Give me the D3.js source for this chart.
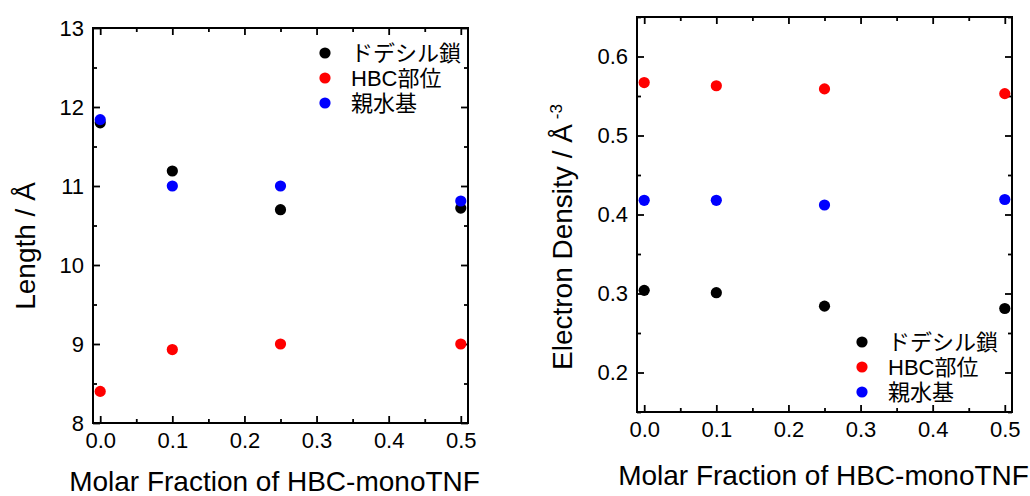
<!DOCTYPE html>
<html>
<head>
<meta charset="utf-8">
<script src="https://cdn.jsdelivr.net/npm/d3@7"></script>
<style>
	body { margin: 0; background: #fff; }
	svg { display: block; }
	text { font-family: 'Liberation Sans', Arial, 'Noto Sans CJK JP', sans-serif; fill: #000; }
</style>
</head>
<body>
<div id="chart"></div>
<script>
// molar fraction of HBC-monoTNF
const fractions = [0, 0.1, 0.25, 0.5]
const seriesNames = ['ドデシル鎖', 'HBC部位', '親水基']
const seriesColors = ['#000000', '#ff0000', '#0000ff']

// left panel: length / Å
const lengthDodecyl = [11.8, 11.19, 10.7, 10.72]
const lengthHBC = [8.4, 8.93, 9.0, 9.0]
const lengthHydrophilic = [11.84, 11.0, 11.0, 10.81]

// right panel: electron density / Å^-3
const densityDodecyl = [0.304, 0.301, 0.284, 0.281]
const densityHBC = [0.567, 0.563, 0.559, 0.553]
const densityHydrophilic = [0.418, 0.418, 0.412, 0.419]

const xTicks = [0, 0.1, 0.2, 0.3, 0.4, 0.5]
const xMinorTicks = [0.05, 0.15, 0.25, 0.35, 0.45]
const lengthTicks = [8, 9, 10, 11, 12, 13]
const lengthMinorTicks = [8.5, 9.5, 10.5, 11.5, 12.5]
const densityTicks = [0.2, 0.3, 0.4, 0.5, 0.6]
const densityMinorTicks = [0.15, 0.25, 0.35, 0.45, 0.55, 0.65]

const svg = d3
	.select('#chart')
	.append('svg')
	.attr('width', 1030)
	.attr('height', 496)

const fmtX = d3.format('.1f')

function drawPanel(opts) {
	const { left, top, width, height } = opts

	const x = d3
		.scaleLinear()
		.domain([-0.01, 0.51])
		.range([0, width])

	const y = d3
		.scaleLinear()
		.domain(opts.yDomain)
		.range([height, 0])

	const g = svg
		.append('g')
		.attr('transform', `translate(${left},${top})`)

	// ticks point inwards on all four sides, labels only bottom/left
	const axes = [
		{ axis: d3.axisBottom(x), t: `translate(0,${height})`, ticks: xTicks, minor: xMinorTicks, fmt: fmtX },
		{ axis: d3.axisTop(x), t: 'translate(0,0)', ticks: xTicks, minor: xMinorTicks, fmt: '' },
		{ axis: d3.axisLeft(y), t: 'translate(0,0)', ticks: opts.yTicks, minor: opts.yMinor, fmt: opts.yFormat },
		{ axis: d3.axisRight(y), t: `translate(${width},0)`, ticks: opts.yTicks, minor: opts.yMinor, fmt: '' }
	]

	axes.forEach(a => {
		const major = g
			.append('g')
			.attr('transform', a.t)
			.call(
				a.axis
					.tickValues(a.ticks)
					.tickSizeInner(-7)
					.tickSizeOuter(0)
					.tickPadding(9)
					.tickFormat(a.fmt)
			)
		major.select('.domain').remove()
		major.selectAll('line').attr('stroke', '#000').attr('stroke-width', 1.8)
		major.selectAll('text').style('font-size', '22px')

		const minor = g
			.append('g')
			.attr('transform', a.t)
			.call(
				a.axis
					.tickValues(a.minor)
					.tickSizeInner(-4)
					.tickFormat('')
			)
		minor.select('.domain').remove()
		minor.selectAll('line').attr('stroke', '#000').attr('stroke-width', 1.8)
	})

	g.append('rect')
		.attr('width', width)
		.attr('height', height)
		.attr('fill', 'none')
		.attr('stroke', '#000')
		.attr('stroke-width', 2)

	// points, drawn black -> red -> blue
	opts.series.forEach((values, i) => {
		g.append('g')
			.selectAll('circle')
			.data(values.map((v, j) => [fractions[j], v]))
			.enter()
			.append('circle')
			.attr('cx', d => x(d[0]))
			.attr('cy', d => y(d[1]))
			.attr('r', 5.6)
			.attr('fill', seriesColors[i])
	})

	// legend
	const legend = g
		.append('g')
		.attr('transform', `translate(${opts.legendX},${opts.legendY})`)

	seriesNames.forEach((name, i) => {
		legend
			.append('circle')
			.attr('cx', 0)
			.attr('cy', i * 25)
			.attr('r', 5.6)
			.attr('fill', seriesColors[i])
		legend
			.append('text')
			.attr('x', 26)
			.attr('y', i * 25)
			.attr('dy', '0.36em')
			.style('font-size', '22px')
			.text(name)
	})

	// x title
	g.append('text')
		.attr('x', width / 2 + opts.xTitleShift)
		.attr('y', opts.xTitleY)
		.attr('text-anchor', 'middle')
		.style('font-size', '28px')
		.text('Molar Fraction of HBC-monoTNF')

	return g
}

const leftPanel = drawPanel({
	left: 93,
	top: 28,
	width: 375,
	height: 395,
	yDomain: [8, 13],
	yTicks: lengthTicks,
	yMinor: lengthMinorTicks,
	yFormat: d3.format('d'),
	series: [lengthDodecyl, lengthHBC, lengthHydrophilic],
	legendX: 232,
	legendY: 25,
	xTitleY: 463,
	xTitleShift: -6
})

leftPanel
	.append('text')
	.attr('transform', 'translate(-58,218) rotate(-90)')
	.attr('text-anchor', 'middle')
	.style('font-size', '28px')
	.text('Length / Å')

const rightPanel = drawPanel({
	left: 637,
	top: 17,
	width: 375,
	height: 395,
	yDomain: [0.15, 0.65],
	yTicks: densityTicks,
	yMinor: densityMinorTicks,
	yFormat: fmtX,
	series: [densityDodecyl, densityHBC, densityHydrophilic],
	legendX: 225,
	legendY: 325,
	xTitleY: 468,
	xTitleShift: -1
})

const yTitle = rightPanel
	.append('text')
	.attr('transform', 'translate(-65,353) rotate(-90)')
	.attr('text-anchor', 'start')
	.style('font-size', '28px')

yTitle.append('tspan').text('Electron Density / Å')
yTitle
	.append('tspan')
	.attr('dy', '-0.6em')
	.attr('dx', '5')
	.style('font-size', '17px')
	.text('-3')
</script>
</body>
</html>
